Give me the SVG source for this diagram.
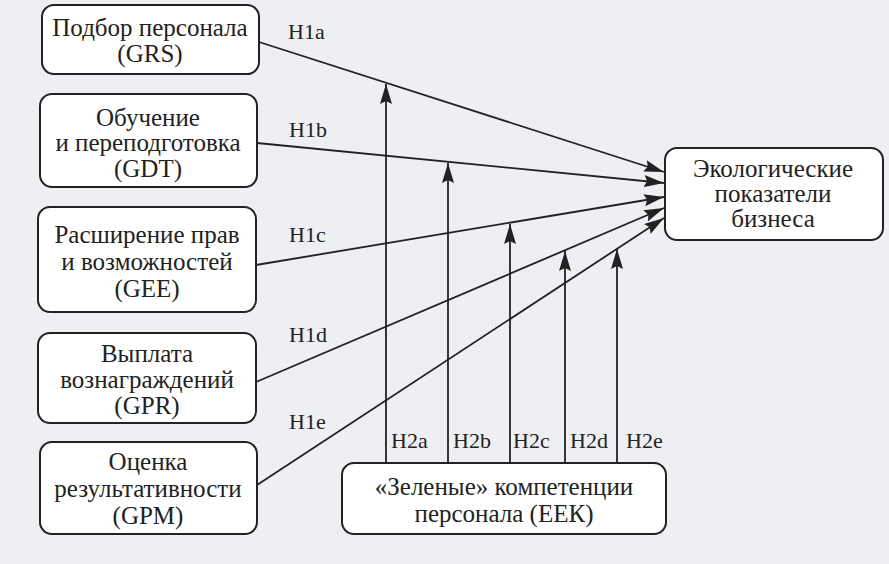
<svg xmlns="http://www.w3.org/2000/svg" width="889" height="564" viewBox="0 0 889 564">
<defs>
<style>
.box{fill:#ffffff;stroke:#222222;stroke-width:2}
.t{font-size:25px;fill:#222222;text-anchor:middle}
.lbl{font-size:22px;fill:#222222}
.c{stroke:#222222;stroke-width:1.8;fill:none;marker-end:url(#ah)}
</style>
<marker id="ah" viewBox="0 0 20 12" markerWidth="20" markerHeight="12" markerUnits="userSpaceOnUse" refX="20" refY="6" orient="auto">
<path d="M0,0 L20,6 L0,12 L3,6 Z" fill="#222222"/>
</marker>
</defs>
<rect x="0" y="0" width="889" height="564" fill="#eeeff3"/>
<g font-family="Liberation Serif, Times New Roman, serif">
<g id="connectors">
<line class="c" x1="259" y1="42" x2="664" y2="172"/>
<line class="c" x1="257" y1="143" x2="664" y2="183"/>
<line class="c" x1="256" y1="265" x2="664" y2="197"/>
<line class="c" x1="256" y1="382" x2="664" y2="208"/>
<line class="c" x1="257" y1="485" x2="664" y2="218"/>
<line class="c" x1="386" y1="463" x2="386" y2="84"/>
<line class="c" x1="448" y1="463" x2="448" y2="163"/>
<line class="c" x1="510" y1="463" x2="510" y2="224"/>
<line class="c" x1="565" y1="463" x2="565" y2="251"/>
<line class="c" x1="617" y1="463" x2="617" y2="249"/>
<text class="lbl" x="288" y="39">H1a</text>
<text class="lbl" x="289" y="137">H1b</text>
<text class="lbl" x="289" y="242">H1c</text>
<text class="lbl" x="289" y="342">H1d</text>
<text class="lbl" x="289" y="429">H1e</text>
<text class="lbl" x="391" y="448">H2a</text>
<text class="lbl" x="453" y="448">H2b</text>
<text class="lbl" x="513" y="448">H2c</text>
<text class="lbl" x="570" y="448">H2d</text>
<text class="lbl" x="626" y="448">H2e</text>
</g>
<g id="grs">
<rect class="box" x="42" y="5" width="217" height="69" rx="12"/>
<text class="t" x="150" y="36">Подбор персонала</text>
<text class="t" x="150" y="62">(GRS)</text>
</g>
<g id="gdt">
<rect class="box" x="40" y="94" width="217" height="93" rx="12"/>
<text class="t" x="148" y="126">Обучение</text>
<text class="t" x="148" y="151">и переподготовка</text>
<text class="t" x="148" y="177">(GDT)</text>
</g>
<g id="gee">
<rect class="box" x="38" y="207" width="218" height="105" rx="12"/>
<text class="t" x="147" y="243">Расширение прав</text>
<text class="t" x="147" y="270">и возможностей</text>
<text class="t" x="147" y="297">(GEE)</text>
</g>
<g id="gpr">
<rect class="box" x="38" y="333" width="218" height="90" rx="12"/>
<text class="t" x="147" y="362">Выплата</text>
<text class="t" x="147" y="388">вознаграждений</text>
<text class="t" x="147" y="414">(GPR)</text>
</g>
<g id="gpm">
<rect class="box" x="40" y="442" width="217" height="92" rx="12"/>
<text class="t" x="148" y="470">Оценка</text>
<text class="t" x="148" y="497">результативности</text>
<text class="t" x="148" y="524">(GPM)</text>
</g>
<g id="eco">
<rect class="box" x="665" y="148" width="218" height="92" rx="12"/>
<text class="t" x="773" y="177">Экологические</text>
<text class="t" x="773" y="202">показатели</text>
<text class="t" x="773" y="227">бизнеса</text>
</g>
<g id="eek">
<rect class="box" x="342" y="463" width="324" height="71" rx="12"/>
<text class="t" x="504" y="495">«Зеленые» компетенции</text>
<text class="t" x="504" y="522">персонала (ЕЕК)</text>
</g>
</g>
</svg>
